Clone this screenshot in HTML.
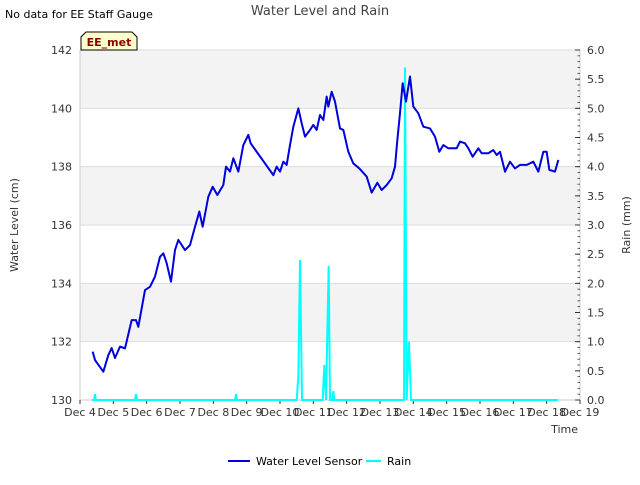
<!DOCTYPE html>
<html><head><meta charset="utf-8"><style>
body{margin:0;background:#fff;font-family:"Liberation Sans",sans-serif;}
svg text{font-family:"DejaVu Sans","Liberation Sans",sans-serif;}
</style></head><body>
<svg id="chart" width="640" height="480" xmlns="http://www.w3.org/2000/svg">
<text x="5" y="18" font-size="11" fill="#000">No data for EE Staff Gauge</text>
<text x="320" y="15" font-size="13" fill="#444" text-anchor="middle">Water Level and Rain</text>
<g id="bands"></g>
<g id="grid"></g>
<g id="axes"></g>
<g id="series"></g>
<g>
<path d="M81,50 L81,37 L86,32 L132,32 L137,37 L137,50 Z" fill="#ffffcc" stroke="#000" stroke-width="1"/>
<text x="109" y="46" font-size="11" font-weight="bold" fill="#8b0000" text-anchor="middle">EE_met</text>
</g>
<text transform="translate(18,225) rotate(-90)" font-size="11" fill="#333" text-anchor="middle">Water Level (cm)</text>
<text transform="translate(630,225) rotate(-90)" font-size="11" fill="#333" text-anchor="middle">Rain (mm)</text>
<text x="578" y="433" font-size="11" fill="#333" text-anchor="end">Time</text>
<g>
<g><line x1="228" y1="461" x2="250" y2="461" stroke="#0000dd" stroke-width="2"/><text x="256" y="465" font-size="11" fill="#000">Water Level Sensor</text></g>
<g><line x1="366" y1="461" x2="381" y2="461" stroke="cyan" stroke-width="2"/><text x="387" y="465" font-size="11" fill="#000">Rain</text></g>
</g>
</svg>
<script>
const xTickLabels=["Dec 4","Dec 5","Dec 6","Dec 7","Dec 8","Dec 9","Dec 10","Dec 11","Dec 12","Dec 13","Dec 14","Dec 15","Dec 16","Dec 17","Dec 18","Dec 19"];
const yTicks=[130,132,134,136,138,140,142];
const y2Ticks=[0,0.5,1,1.5,2,2.5,3,3.5,4,4.5,5,5.5,6];
const waterDays=[0.38,0.45,0.70,0.85,0.95,1.05,1.20,1.35,1.55,1.68,1.75,1.95,2.10,2.25,2.40,2.50,2.60,2.73,2.85,2.95,3.15,3.30,3.45,3.58,3.68,3.85,3.98,4.12,4.30,4.38,4.50,4.60,4.75,4.90,5.05,5.12,5.80,5.90,6.00,6.10,6.20,6.30,6.40,6.55,6.65,6.75,6.90,7.00,7.10,7.20,7.30,7.40,7.45,7.55,7.65,7.80,7.90,8.05,8.20,8.38,8.60,8.75,8.92,9.05,9.20,9.35,9.45,9.52,9.60,9.68,9.78,9.90,10.00,10.15,10.30,10.50,10.65,10.78,10.90,11.05,11.30,11.40,11.55,11.65,11.78,11.95,12.05,12.25,12.40,12.50,12.60,12.75,12.90,13.05,13.20,13.40,13.60,13.75,13.90,14.00,14.08,14.25,14.35];
const waterLevel=[131.66,131.37,130.97,131.54,131.78,131.44,131.83,131.77,132.74,132.74,132.51,133.77,133.88,134.23,134.91,135.03,134.69,134.06,135.14,135.49,135.14,135.31,135.94,136.46,135.94,136.97,137.31,137.03,137.37,138.0,137.83,138.29,137.83,138.74,139.09,138.8,137.71,138.0,137.83,138.17,138.06,138.74,139.37,140.0,139.49,139.03,139.26,139.43,139.26,139.77,139.6,140.4,140.06,140.57,140.23,139.31,139.26,138.51,138.11,137.94,137.66,137.11,137.45,137.2,137.37,137.6,138.0,138.91,139.83,140.86,140.23,141.09,140.06,139.83,139.37,139.31,139.03,138.51,138.74,138.63,138.63,138.86,138.8,138.63,138.34,138.63,138.46,138.46,138.57,138.4,138.51,137.83,138.17,137.94,138.06,138.06,138.17,137.83,138.51,138.51,137.89,137.83,138.23];
const rainDays=[0.36,0.42,0.45,0.48,1.65,1.68,1.71,4.65,4.68,4.71,6.50,6.55,6.60,6.66,7.28,7.33,7.38,7.46,7.50,7.57,7.60,7.63,9.72,9.75,9.80,9.87,9.93,14.35];
const rainMm=[0,0,0.1,0,0,0.1,0,0,0.1,0,0,0.4,2.4,0,0,0.6,0,2.3,0,0,0.15,0,0,5.7,0,1.0,0,0];
const NS="http://www.w3.org/2000/svg";
const L=80,R=580,T=50,B=400;
const xS=d=>L+d*(R-L)/15;
const yS=v=>B-(v-130)*(B-T)/12;
const y2S=v=>B-v*(B-T)/6;
function mk(tag,attrs,parent){const e=document.createElementNS(NS,tag);for(const k in attrs)e.setAttribute(k,attrs[k]);parent.appendChild(e);return e;}
const bands=document.getElementById('bands'),grid=document.getElementById('grid'),axes=document.getElementById('axes'),series=document.getElementById('series');
for(let i=0;i<yTicks.length-1;i++){
  const r=mk('rect',{x:L,y:yS(yTicks[i+1]),width:R-L,height:yS(yTicks[i])-yS(yTicks[i+1]),fill:(i%2==1)?'#f3f3f3':'#ffffff'},bands);
  
  
}
yTicks.forEach(v=>{
  const ln=mk('line',{x1:L,x2:R,y1:yS(v),y2:yS(v),stroke:'#dddddd','stroke-width':1},grid);
  
  
  const t=mk('text',{x:L-8,y:yS(v)+4,'font-size':11,fill:'#333','text-anchor':'end'},axes);
  
  
  t.textContent=v;
});
mk('line',{x1:L,x2:L,y1:T,y2:B,stroke:'#ccc'},axes);
mk('line',{x1:R,x2:R,y1:T,y2:B,stroke:'#ccc'},axes);
mk('line',{x1:L,x2:R,y1:B,y2:B,stroke:'#ccc'},axes);
mk('line',{x1:L,x2:R,y1:T,y2:T,stroke:'#ddd'},axes);
y2Ticks.forEach(v=>{
  mk('line',{x1:R,x2:R-5,y1:y2S(v),y2:y2S(v),stroke:'#333'},axes);
  const t=mk('text',{x:R+7,y:y2S(v)+4,'font-size':11,fill:'#333'},axes);
  
  
  t.textContent=v.toFixed(1);
});
for(let m=0;m<=60;m++){mk('line',{x1:R,x2:R-2.5,y1:y2S(m/10),y2:y2S(m/10),stroke:'#333','stroke-width':0.8},axes);}
xTickLabels.forEach((s,i)=>{
  mk('line',{x1:xS(i),x2:xS(i),y1:B,y2:B+4,stroke:'#333'},axes);
  const t=mk('text',{x:xS(i),y:B+16,'font-size':11,fill:'#333','text-anchor':'middle'},axes);
  
  
  t.textContent=s;
});
const rp=mk('polyline',{points:rainDays.map((d,i)=>xS(d)+','+y2S(rainMm[i])).join(' '),fill:'none',stroke:'cyan','stroke-width':2},series);


const wp=mk('polyline',{points:waterDays.map((d,i)=>xS(d)+','+yS(waterLevel[i])).join(' '),fill:'none',stroke:'#0000dd','stroke-width':2,'stroke-linejoin':'round'},series);


</script>
</body></html>
